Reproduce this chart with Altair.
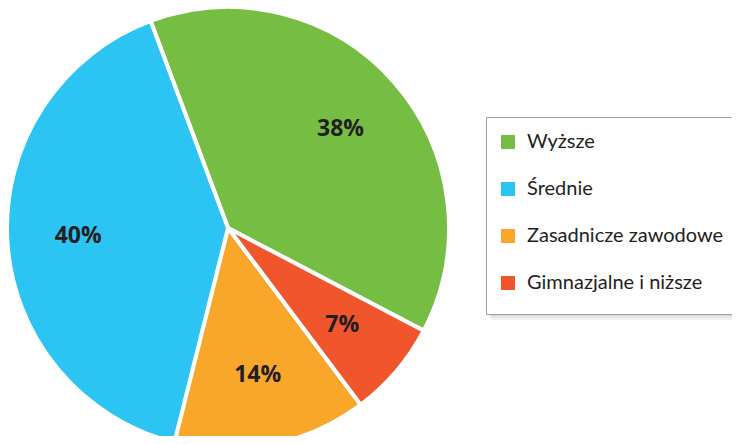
import math
import altair as alt
import pandas as pd

# slice data, in clockwise drawing order
categories = ["Wyższe", "Gimnazjalne i niższe", "Zasadnicze zawodowe", "Średnie"]
values = [38, 7, 14, 40]
labels = ["38%", "7%", "14%", "40%"]
draw_order = [0, 1, 2, 3]

legend_order = ["Wyższe", "Średnie", "Zasadnicze zawodowe", "Gimnazjalne i niższe"]
legend_colors = ["#76BE43", "#2BC4F3", "#F8A72B", "#F1552C"]

df = pd.DataFrame({"cat": categories, "val": values, "label": labels, "ord": draw_order})

start = -20.5 / 180 * math.pi
theta_scale = alt.Scale(range=[start, start + 2 * math.pi])

CX, CY = 220, 220

pie = alt.Chart(df).mark_arc(outerRadius=221, stroke="white", strokeWidth=4).encode(
    theta=alt.Theta("val:Q", stack=True, scale=theta_scale),
    order=alt.Order("ord:Q"),
    color=alt.Color(
        "cat:N",
        scale=alt.Scale(domain=legend_order, range=legend_colors),
        legend=alt.Legend(
            orient="none", legendX=490, legendY=124, title=None,
            symbolType="square", symbolSize=196, symbolStrokeWidth=0, symbolOpacity=1,
            labelFont="Lato", labelFontSize=20, labelColor="#231f20", labelLimit=400,
            labelOffset=9, rowPadding=27, padding=0,
        ),
    ),
    x=alt.value(CX), y=alt.value(CY),
)

text = alt.Chart(df).mark_text(
    radius=150, font="Open Sans", fontSize=23, fontWeight="bold", color="#231f20"
).encode(
    theta=alt.Theta("val:Q", stack=True, scale=theta_scale),
    order=alt.Order("ord:Q"),
    text="label:N",
    x=alt.value(CX), y=alt.value(CY),
)

box_df = pd.DataFrame({"k": [0]})
shadows = [
    alt.Chart(box_df).mark_rect(fill="#000000", opacity=0.05).encode(
        x=alt.value(480 + d), x2=alt.value(760), y=alt.value(111 + d), y2=alt.value(306 + d * 2)
    )
    for d in (1, 2, 3)
]
box = alt.Chart(box_df).mark_rect(fill="white", stroke="#a0a0a0", strokeWidth=1).encode(
    x=alt.value(478.5), x2=alt.value(760), y=alt.value(109.5), y2=alt.value(306.5)
)

chart = alt.layer(*shadows, box, pie, text).properties(
    width=724, height=428, padding=0, autosize=alt.AutoSizeParams(type="none")
).configure_view(stroke=None)

chart.save("out.html", embed_options={"renderer": "svg", "actions": False})
